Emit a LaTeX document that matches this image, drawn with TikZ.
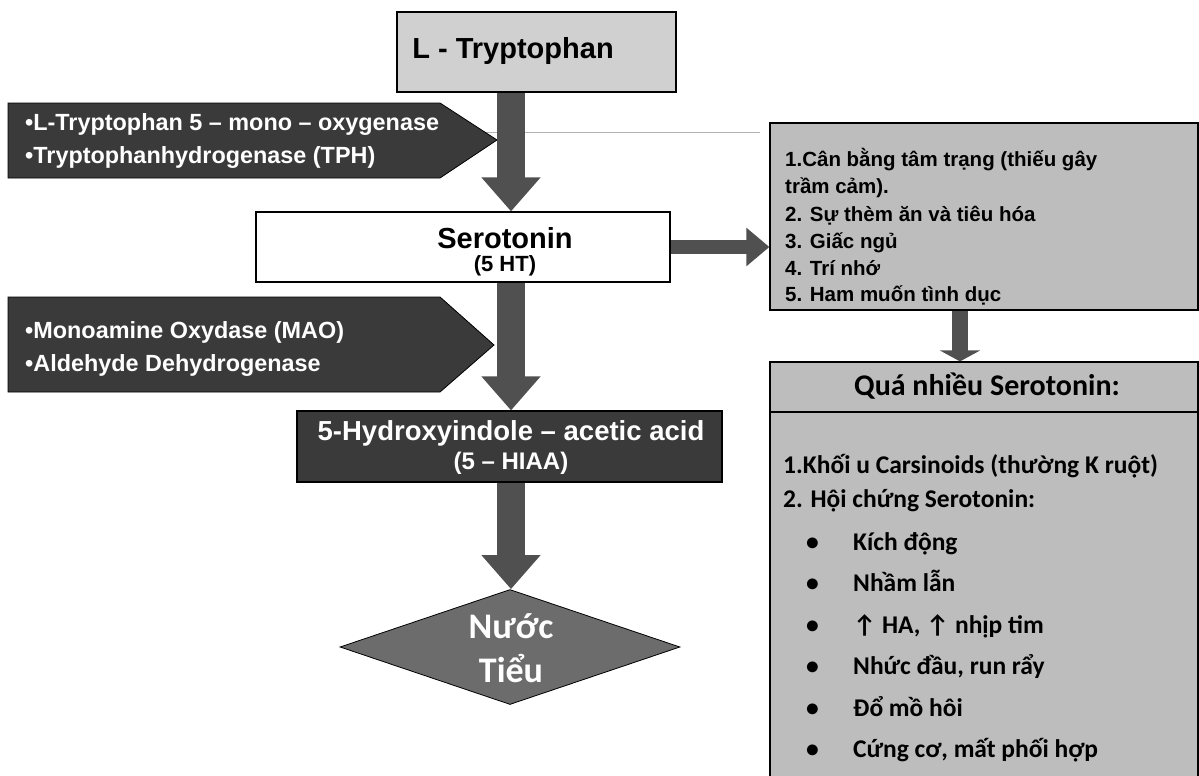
\documentclass[tikz,border=0pt]{standalone}
\usepackage{fontspec}
\setmainfont{Liberation Sans}
\newfontfamily\calib{Carlito}
\usetikzlibrary{arrows.meta,shapes.geometric}
\definecolor{lightbox}{HTML}{D0D0D0}
\definecolor{midbox}{HTML}{BDBDBD}
\definecolor{darkbox}{HTML}{3A3A3A}
\definecolor{arrowgray}{HTML}{505050}
\definecolor{diagray}{HTML}{6C6C6C}
\tikzset{
  framebox/.style={rectangle, draw=black, line width=1.2pt, inner sep=0pt},
  bigarrow/.style={draw=arrowgray, line width=28pt, -{Triangle[length=34pt,width=57pt]}},
  medarrow/.style={draw=arrowgray, line width=14pt, -{Triangle[length=23pt,width=37pt]}},
  smallarrow/.style={draw=arrowgray, line width=16pt, -{Triangle[length=11pt,width=40pt]}},
  enz/.style={anchor=west, text=white, font=\bfseries\fontsize{23.4}{27}\selectfont, inner sep=0pt},
  rtxt/.style={anchor=base west, text=black, font=\bfseries\fontsize{20.5}{24}\selectfont, inner sep=0pt},
  ctxt/.style={anchor=base west, text=black, font=\calib\bfseries\fontsize{25.5}{29}\selectfont, inner sep=0pt},
}
\begin{document}
\begin{tikzpicture}[x=1pt,y=-1pt]
\useasboundingbox (0,0) rectangle (1199,776);
\fill[white] (0,0) rectangle (1199,776);
\coordinate (ax) at (511,0);
\coordinate (bx) at (960,0);

% faint scan line
\draw[gray!60, line width=0.6pt] (478,132) -- (760,132);

% enzyme signals
\fill[darkbox, draw=black, line width=0.8pt] (8,103) -- (440,103) -- (497,140) -- (440,178) -- (8,178) -- cycle;
\fill[darkbox, draw=black, line width=0.8pt] (8,297) -- (440,297) -- (494,345) -- (440,392) -- (8,392) -- cycle;
\node[enz] (e1) at (25,125) {•L-Tryptophan 5 – mono – oxygenase};
\node[enz] (e2) at (25,157) {•Tryptophanhydrogenase (TPH)};
\node[enz] (e3) at (25,332) {•Monoamine Oxydase (MAO)};
\node[enz] (e4) at (25,365) {•Aldehyde Dehydrogenase};

% main boxes
\node[framebox, fill=lightbox, minimum width=279pt, minimum height=80pt] (tryp) at (536.5,52) {};
\node[font=\bfseries\fontsize{29}{32}\selectfont] (tryptxt) at (513,51) {L - Tryptophan};

\node[framebox, fill=white, minimum width=414pt, minimum height=70pt] (sero) at (463,247) {};
\node[font=\bfseries\fontsize{29}{32}\selectfont, inner sep=0pt] (serotxt) at (505,238) {Serotonin};
\node[font=\bfseries\fontsize{22}{26}\selectfont, inner sep=0pt] (serosub) at (505,266) {(5 HT)};

\node[framebox, fill=darkbox, minimum width=425pt, minimum height=71pt] (hiaa) at (509.5,446.5) {};
\node[font=\bfseries\fontsize{27.5}{30}\selectfont, text=white, inner sep=0pt] (hiaatxt) at (511,433) {5-Hydroxyindole – acetic acid};
\node[font=\bfseries\fontsize{24}{28}\selectfont, text=white, inner sep=0pt] (hiaasub) at (511,463) {(5 – HIAA)};

\node[diamond, aspect=2.95, minimum width=340pt, minimum height=115pt, inner sep=0pt, fill=diagray, draw=black, line width=0.8pt] (nuoc) at (510,647) {};
\node[font=\calib\bfseries\fontsize{36}{40}\selectfont, text=white, inner sep=0pt] (nuoc1) at (511,626) {Nước};
\node[font=\calib\bfseries\fontsize{36}{40}\selectfont, text=white, inner sep=0pt] (nuoc2) at (511,668) {Tiểu};

% main arrows
\draw[bigarrow] (ax |- tryp.south) -- (ax |- sero.north);
\draw[bigarrow] (ax |- sero.south) -- (ax |- hiaa.north);
\draw[bigarrow] (ax |- hiaa.south) -- (ax |- nuoc.north);

% right boxes
\node[framebox, fill=midbox, minimum width=428pt, minimum height=187pt] (box1) at (984,216.5) {};
\node[rtxt] (r1) at (785,166) {1.Cân bằng tâm trạng (thiếu gây};
\node[rtxt] (r2) at (785,193) {trầm cảm).};
\node[rtxt] (r3) at (785,221) {2. Sự thèm ăn và tiêu hóa};
\node[rtxt] (r4) at (785,248) {3. Giấc ngủ};
\node[rtxt] (r5) at (785,275) {4. Trí nhớ};
\node[rtxt] (r6) at (785,301) {5. Ham muốn tình dục};

\draw[medarrow] (sero.east) -- (sero.east -| box1.west);

\node[framebox, fill=midbox, minimum width=428pt, minimum height=420pt] (box2) at (984,572) {};
\draw[black, line width=1.2pt] (box2.west |- 0,412) -- (box2.east |- 0,412);
\node[font=\calib\bfseries\fontsize{30}{33}\selectfont, inner sep=0pt] (qua) at (987,386) {Quá nhiều Serotonin:};
\draw[smallarrow] (bx |- box1.south) -- (bx |- box2.north);

\node[ctxt] (b1) at (783,473) {1.Khối u Carsinoids (thường K ruột)};
\node[ctxt] (b2) at (783,507) {2. Hội chứng Serotonin:};
\foreach \t [count=\i] in {Kích động, Nhầm lẫn, {↑ HA, ↑ nhịp tim}, {Nhức đầu, run rẩy}, Đổ mồ hôi, {Cứng cơ, mất phối hợp}} {
  \node[ctxt] (bul\i) at (806,{508.5+\i*41.5}) {•};
  \node[ctxt] (bt\i) at (853,{508.5+\i*41.5}) {\t};
}
\end{tikzpicture}
\end{document}
